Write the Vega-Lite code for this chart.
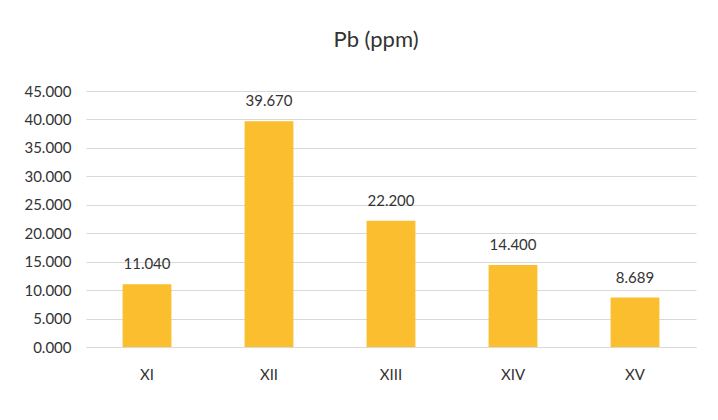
{
  "$schema": "https://vega.github.io/schema/vega-lite/v6.json",
  "autosize": "none",
  "width": 610,
  "height": 256,
  "padding": {"left": 86, "top": 91, "right": 22, "bottom": 73},
  "background": "white",
  "title": {
    "text": "Pb (ppm)",
    "fontSize": 22,
    "font": "Lato",
    "fontWeight": "normal",
    "color": "#333333",
    "offset": 32,
    "dx": -15,
    "anchor": "middle"
  },
  "data": {
    "values": [
      {"site": "XI", "pb": 11.04},
      {"site": "XII", "pb": 39.67},
      {"site": "XIII", "pb": 22.2},
      {"site": "XIV", "pb": 14.4},
      {"site": "XV", "pb": 8.689}
    ]
  },
  "encoding": {
    "x": {
      "field": "site",
      "type": "nominal",
      "sort": null,
      "title": null,
      "scale": {"paddingInner": 0.6, "paddingOuter": 0.3},
      "axis": {
        "labelAngle": 0,
        "ticks": false,
        "domainColor": "#d9d9d9",
        "domainWidth": 1,
        "labelPadding": 20,
        "labelFontSize": 15,
        "labelFont": "Lato",
        "labelColor": "#333333"
      }
    },
    "y": {
      "field": "pb",
      "type": "quantitative",
      "title": null,
      "scale": {"domain": [0, 45], "nice": false},
      "axis": {
        "values": [0, 5, 10, 15, 20, 25, 30, 35, 40, 45],
        "format": ".3f",
        "domain": false,
        "ticks": false,
        "gridColor": "#d9d9d9",
        "labelPadding": 15,
        "labelFontSize": 15,
        "labelFont": "Lato",
        "labelColor": "#333333"
      }
    }
  },
  "layer": [
    {"mark": {"type": "bar", "color": "#FBBE2E"}},
    {
      "mark": {
        "type": "text",
        "baseline": "bottom",
        "dy": -12,
        "fontSize": 15,
        "font": "Lato",
        "color": "#333333"
      },
      "encoding": {"text": {"field": "pb", "type": "quantitative", "format": ".3f"}}
    }
  ],
  "config": {"view": {"stroke": null}}
}
